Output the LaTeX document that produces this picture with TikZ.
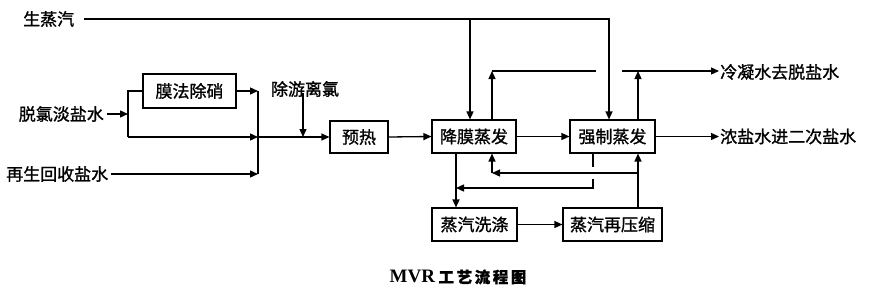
\documentclass[tikz,border=0pt]{standalone}
\usepackage{fontspec}
\setmainfont{Noto Sans CJK SC}[FakeBold=1.2]
\newfontfamily\latserif{Liberation Serif}
\usetikzlibrary{arrows.meta}
\begin{document}
\begin{tikzpicture}[x=1pt,y=-1pt,
  box/.style={draw, line width=1.1pt, minimum height=33pt, inner sep=0pt, font=\fontsize{17}{20}\selectfont},
  lbl/.style={inner sep=0pt, font=\fontsize{17}{20}\selectfont},
  ln/.style={line width=1.3pt},
  flow/.style={line width=1.3pt, -{Triangle[length=8pt,width=7pt]}}]
\useasboundingbox (0,0) rectangle (878,295);
% boxes
\node[box, minimum width=93pt, minimum height=34pt] (mf) at (189.5,91) {膜法除硝};
\node[box, minimum width=58pt, minimum height=32pt] (yr) at (359,137) {预热};
\node[box, minimum width=84pt] (jm) at (474,136.5) {降膜蒸发};
\node[box, minimum width=85pt] (qz) at (612.5,136.5) {强制蒸发};
\node[box, minimum width=85pt] (xd) at (474.5,224.5) {蒸汽洗涤};
\node[box, minimum width=99pt] (ys) at (612.5,224.5) {蒸汽再压缩};
% labels
\node[lbl, anchor=west] (szq) at (23,19) {生蒸汽};
\node[lbl, anchor=east] (tl) at (104,114) {脱氯淡盐水};
\node[lbl, anchor=west] (zs) at (6,174) {再生回收盐水};
\node[lbl] (cy) at (305,89) {除游离氯};
\node[lbl, anchor=west] (ln1) at (720,72) {冷凝水去脱盐水};
\node[lbl, anchor=west] (ln2) at (720,136.5) {浓盐水进二次盐水};
\node[inner sep=0pt, font=\fontsize{15.5}{19}\selectfont\bfseries] (cap) at (458,277) {{\latserif\fontsize{19}{20}\selectfont\bfseries MVR} 工\,艺\,流\,程\,图};
% helper coordinates
\coordinate (xa) at (128,0);
\coordinate (xb) at (258,0);
\coordinate (xc) at (303,0);
\coordinate (xj) at (470,0);
\coordinate (xq) at (609,0);
\coordinate (c1) at (492,71);
\coordinate (c2) at (638,71);
\coordinate (e1) at (638,173);
\coordinate (e2) at (492,173);
\coordinate (g1) at (593,167);
\coordinate (g2) at (593,179);
\coordinate (g3) at (593,188);
\coordinate (g4) at (456,188);
% raw steam
\draw[flow] ([xshift=10pt]szq.east) -| (qz.north -| xq);
\draw[flow] (xj |- szq.east) -- (jm.north -| xj);
% inlet streams
\draw[flow] ([xshift=3pt]tl.east) -- (tl.east -| xa);
\draw[ln] (mf.west) -- (mf.west -| xa) -- (xa |- yr.west);
\draw[flow] (xa |- yr.west) -- (xb |- yr.west);
\draw[flow] (mf.east) -- (mf.east -| xb);
\draw[flow] ([xshift=3pt]zs.east) -- (zs.east -| xb);
\draw[ln] (mf.east -| xb) -- (zs.east -| xb);
\draw[flow] (xb |- yr.west) -- (yr.west);
\draw[flow] (cy.south -| xc) ++(0,-4) -- (xc |- yr.west);
% main line
\draw[flow] (yr.east) -- (jm.west);
\draw[flow] (jm.east) -- (qz.west);
\draw[flow] (qz.east) -- ([xshift=-1pt]ln2.west);
% condensate
\draw[flow] (jm.north -| c1) -- (c1);
\draw[flow] (qz.north -| c2) -- (c2);
\draw[ln] (c1) -- (596,71);
\draw[flow] (622,71) -- ([xshift=-1pt]ln1.west |- c2);
% lower loop
\draw[flow] (jm.south -| g4) -- (xd.north -| g4);
\draw[flow] (xd.east) -- (ys.west);
\draw[flow] (ys.north -| e1) -- (qz.south -| e1);
\draw[flow] (e1) -- (e2);
\draw[flow] (e2) -- (jm.south -| e2);
\draw[ln] (qz.south -| g1) -- (g1);
\draw[flow] (g2) -- (g3) -- (g4);
\end{tikzpicture}
\end{document}
